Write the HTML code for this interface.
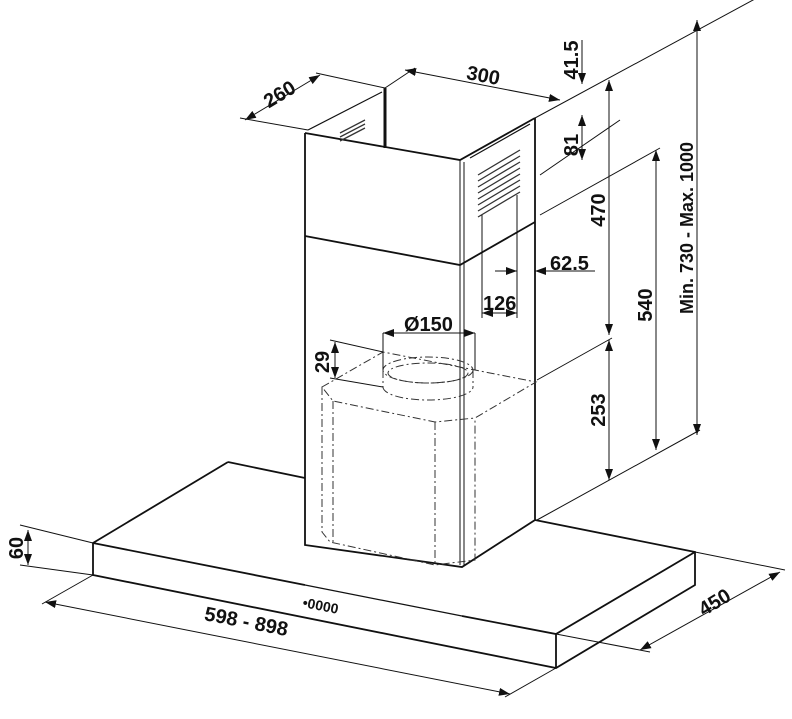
<!DOCTYPE html><html><head><style>html,body{margin:0;padding:0;background:#fff}svg{display:block}text{font-family:"Liberation Sans",sans-serif;font-size:20px;font-weight:bold;fill:#111}</style></head><body>
<svg width="792" height="719" viewBox="0 0 792 719" xmlns="http://www.w3.org/2000/svg">
<defs><marker id="a" markerWidth="11" markerHeight="8" refX="11" refY="4" orient="auto-start-reverse" markerUnits="userSpaceOnUse"><path d="M0,0L11,4L0,8z" fill="#111"/></marker></defs>
<g stroke="#111" fill="none" stroke-width="1.8">
<path d="M228,462 L305,478 M535,520 L695,552 L695,585 L556,668 L93,575 L93,543 L228,462"/>
<path d="M93,543 L305,585 M462,616 L556,634 L695,552 M556,634 L556,668"/>
<path d="M305,585 L462,616" stroke-width="1.2"/>
<path d="M305,133 L305,545 L462,567 L535,520 L535,118"/>
<path d="M460,160 L460,565 M464,162 L464,565" stroke-width="1"/>
<path d="M305,133 L460,160 L535,118"/>
<path d="M308,130 L382,92 M470,158 L530,124" stroke-width="1.2"/>
<path d="M385,88 L385,148" stroke-width="3"/>
<path d="M305,236 L460,265 L535,222"/>
</g>
<g stroke="#333" stroke-width="1.3">
<path d="M478,175 L520,150 M478,181 L520,156 M478,187 L520,162 M478,193 L520,168 M478,199 L520,174 M478,205 L520,180 M478,211 L520,186 M478,217 L520,192"/>
<path d="M340,133 L365,120 M340,137 L365,124 M340,141 L365,128"/>
</g>
<g stroke="#333" fill="none" stroke-width="1" stroke-dasharray="8,3,2,3">
<path d="M322,387 L383,352 L536,382 L475,418 L435,422 L333,401 Z"/>
<path d="M322,387 L322,532 L330,542 L435,565 L475,560 L475,418"/>
<path d="M333,401 L333,543 M435,422 L435,565"/>
<ellipse cx="428" cy="370" rx="45" ry="13"/>
<ellipse cx="428" cy="373" rx="40" ry="10"/>
<path d="M383,370 L383,387 M473,370 L473,387"/>
<path d="M383,387 A45,13 0 0 0 473,387"/>
</g>
<g stroke="#111" stroke-width="1" fill="none">
<path d="M245,120 L320,75" marker-start="url(#a)" marker-end="url(#a)"/>
<path d="M240,118 L308,130 M316,73 L385,88"/>
<path d="M405,70 L560,100" marker-start="url(#a)" marker-end="url(#a)"/>
<path d="M385,88 L415,68 M535,118 L790,-20"/>
<path d="M582,40 L582,84" marker-end="url(#a)"/>
<path d="M582,115 L582,160" marker-start="url(#a)" marker-end="url(#a)"/>
<path d="M540,175 L620,120 M540,215 L660,148"/>
<path d="M609,80 L609,335" marker-start="url(#a)" marker-end="url(#a)"/>
<path d="M609,340 L609,480" marker-start="url(#a)" marker-end="url(#a)"/>
<path d="M537,380 L612,338 M537,520 L700,430"/>
<path d="M656,150 L656,450" marker-start="url(#a)" marker-end="url(#a)"/>
<path d="M697,20 L697,435" marker-start="url(#a)" marker-end="url(#a)"/>
<path d="M495,271 L517,271" marker-end="url(#a)"/>
<path d="M595,271 L535,271" marker-end="url(#a)"/>
<path d="M482,313 L517,313" marker-start="url(#a)" marker-end="url(#a)"/>
<path d="M482,215 L482,318 M517,195 L517,318"/>
<path d="M383,333 L475,333" marker-start="url(#a)" marker-end="url(#a)"/>
<path d="M383,333 L383,370 M475,333 L475,370"/>
<path d="M335,342 L335,378" marker-start="url(#a)" marker-end="url(#a)"/>
<path d="M330,340 L383,352 M330,378 L383,387"/>
<path d="M28,530 L28,565" marker-start="url(#a)" marker-end="url(#a)"/>
<path d="M20,525 L93,543 M20,565 L93,575"/>
<path d="M45,602 L510,694" marker-start="url(#a)" marker-end="url(#a)"/>
<path d="M93,575 L42,604 M556,668 L505,697"/>
<path d="M640,650 L780,572" marker-start="url(#a)" marker-end="url(#a)"/>
<path d="M556,634 L650,652 M695,552 L785,570"/>
</g>
<text transform="translate(283,100) rotate(-31)" text-anchor="middle">260</text>
<text transform="translate(482,82) rotate(11)" text-anchor="middle">300</text>
<text transform="translate(578,60) rotate(-90)" text-anchor="middle">41.5</text>
<text transform="translate(578,145) rotate(-90)" text-anchor="middle">81</text>
<text transform="translate(605,210) rotate(-90)" text-anchor="middle">470</text>
<text transform="translate(605,410) rotate(-90)" text-anchor="middle">253</text>
<text transform="translate(652,305) rotate(-90)" text-anchor="middle">540</text>
<text transform="translate(693,228) rotate(-90)" text-anchor="middle" style="font-size:18px">Min.  730  -  Max.  1000</text>
<text x="550" y="270">62.5</text>
<text x="483" y="310">126</text>
<text x="404" y="331">Ø150</text>
<text transform="translate(329,362) rotate(-90)" text-anchor="middle">29</text>
<text transform="translate(23,548) rotate(-90)" text-anchor="middle">60</text>
<text transform="translate(245,628) rotate(11)" text-anchor="middle">598  -  898</text>
<text transform="translate(718,608) rotate(-31)" text-anchor="middle">450</text>
<text transform="translate(302,607) rotate(11)" style="font-size:14px">•0000</text>
</svg></body></html>
